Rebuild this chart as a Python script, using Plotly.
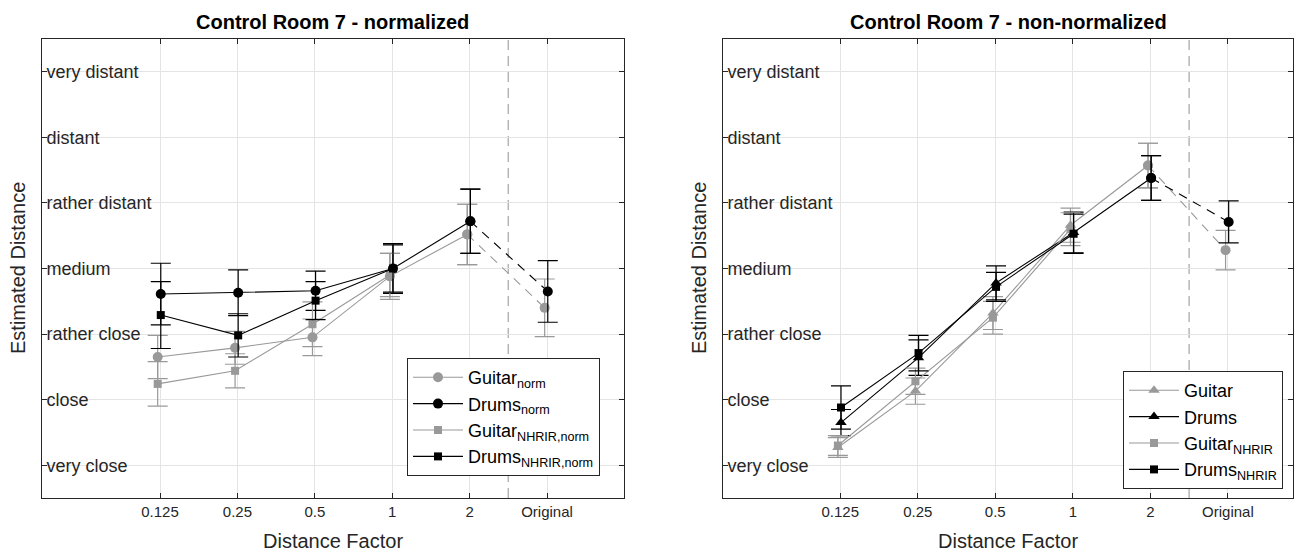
import plotly.graph_objects as go

# ---------------- data ----------------
x_labels = ["0.125", "0.25", "0.5", "1", "2", "Original"]
y_labels = ["very close", "close", "rather close", "medium", "rather distant", "distant", "very distant"]

# normalized (left)
guitar_norm = [2.65, 2.79, 2.95, 3.88, 4.52, 3.40]
guitar_norm_err = [0.33, 0.25, 0.28, 0.35, 0.46, 0.44]
drums_norm = [3.61, 3.63, 3.66, 4.00, 4.72, 3.65]
drums_norm_err = [0.47, 0.35, 0.30, 0.38, 0.49, 0.47]
guitar_nhrir_norm = [2.24, 2.44, 3.15, 3.90]
guitar_nhrir_norm_err = [0.34, 0.26, 0.34, 0.33]
drums_nhrir_norm = [3.29, 2.98, 3.51, 4.00]
drums_nhrir_norm_err = [0.51, 0.33, 0.29, 0.36]

# non-normalized (right)
guitar = [1.27, 2.13, 3.32, 4.66, 5.57, 4.28]
guitar_err = [0.15, 0.20, 0.25, 0.26, 0.34, 0.30]
drums = [1.65, 2.64, 3.78, 4.55, 5.38, 4.71]
drums_err = [0.20, 0.27, 0.26, 0.31, 0.34, 0.32]
guitar_nhrir = [1.30, 2.28, 3.25, 4.60]
guitar_nhrir_err = [0.15, 0.20, 0.25, 0.25]
drums_nhrir = [1.88, 2.71, 3.72, 4.53]
drums_nhrir_err = [0.33, 0.27, 0.22, 0.30]

# ---------------- style ----------------
W, H = 1295, 556
GRAY = "#999999"
BLACK = "#000000"
FONT = "Liberation Sans, Arial, Helvetica, sans-serif"
OFF_GRAY = -0.03
OFF_BLACK = 0.01
pos = list(range(1, len(x_labels) + 1))


def px_x(p):
    return p / W


def px_y(p):
    return (H - p) / H


fig = go.Figure()


def add_series(xa, ya, vals, errs, color, symbols, name, legend, off, size=10,
               dashed_tail=False, showlegend=True):
    n = len(vals)
    xs = [pos[i] + off for i in range(n)]
    solid_n = n - 1 if dashed_tail else n
    fig.add_trace(go.Scatter(
        x=xs[:solid_n], y=vals[:solid_n], mode="lines+markers",
        name=name, legend=legend, showlegend=showlegend,
        xaxis=xa, yaxis=ya,
        line=dict(color=color, width=1.1),
        marker=dict(color=color, symbol=symbols[:solid_n], size=size,
                    line=dict(width=0)),
        error_y=dict(type="data", array=errs[:solid_n], color=color,
                     thickness=1.2, width=10),
    ))
    if dashed_tail:
        fig.add_trace(go.Scatter(
            x=xs[n - 2:], y=vals[n - 2:], mode="lines+markers",
            showlegend=False, xaxis=xa, yaxis=ya,
            line=dict(color=color, width=1.1, dash="9px,7px"),
            marker=dict(color=color, symbol=symbols[n - 2:], size=size,
                        line=dict(width=0)),
            error_y=dict(type="data", array=errs[n - 2:], color=color,
                         thickness=1.2, width=10),
        ))


# left plot
add_series("x", "y", guitar_norm, guitar_norm_err, GRAY, ["circle"] * 6,
           "Guitar<sub>norm</sub>", "legend", OFF_GRAY, dashed_tail=True)
add_series("x", "y", drums_norm, drums_norm_err, BLACK, ["circle"] * 6,
           "Drums<sub>norm</sub>", "legend", OFF_BLACK, dashed_tail=True)
add_series("x", "y", guitar_nhrir_norm, guitar_nhrir_norm_err, GRAY, ["square"] * 4,
           "Guitar<sub>NHRIR,norm</sub>", "legend", OFF_GRAY, size=8)
add_series("x", "y", drums_nhrir_norm, drums_nhrir_norm_err, BLACK, ["square"] * 4,
           "Drums<sub>NHRIR,norm</sub>", "legend", OFF_BLACK, size=8)

# right plot
tri_sym = ["triangle-up"] * 4 + ["circle"] * 2
add_series("x2", "y2", guitar, guitar_err, GRAY, tri_sym,
           "Guitar", "legend2", OFF_GRAY, dashed_tail=True)
add_series("x2", "y2", drums, drums_err, BLACK, tri_sym,
           "Drums", "legend2", OFF_BLACK, dashed_tail=True)
add_series("x2", "y2", guitar_nhrir, guitar_nhrir_err, GRAY, ["square"] * 4,
           "Guitar<sub>NHRIR</sub>", "legend2", OFF_GRAY, size=8)
add_series("x2", "y2", drums_nhrir, drums_nhrir_err, BLACK, ["square"] * 4,
           "Drums<sub>NHRIR</sub>", "legend2", OFF_BLACK, size=8)

# domains
L_DOM = [px_x(42), px_x(624)]
R_DOM = [px_x(723), px_x(1293)]
Y_DOM = [px_y(498), px_y(39)]
unit = 77.4
L_RANGE = [1 - (160 - 42) / unit, 6 + (624 - 547) / unit]
R_RANGE = [1 - (840 - 723) / unit, 6 + (1293 - 1228) / unit]
Y_RANGE = [0.5, 7.5]

xcommon = dict(
    tickmode="array", tickvals=pos, ticktext=x_labels,
    showgrid=True, gridcolor="#e4e4e4", gridwidth=1,
    showline=True, linecolor="#262626", linewidth=1, mirror="ticks",
    ticks="inside", ticklen=5, tickcolor="#262626",
    zeroline=False, tickfont=dict(family=FONT, size=15, color="#262626"),
    fixedrange=True,
)
ycommon = dict(
    tickmode="array", tickvals=list(range(1, 8)), ticktext=y_labels,
    showgrid=True, gridcolor="#e4e4e4", gridwidth=1,
    showline=True, linecolor="#262626", linewidth=1, mirror="ticks",
    ticks="inside", ticklen=5, tickcolor="#262626",
    ticklabelposition="inside", zeroline=False,
    tickfont=dict(family=FONT, size=18, color="#262626"),
    range=Y_RANGE, domain=Y_DOM, fixedrange=True,
)

fig.update_layout(
    width=W, height=H,
    margin=dict(l=0, r=0, t=0, b=0),
    paper_bgcolor="white", plot_bgcolor="white",
    font=dict(family=FONT, size=15, color="#262626"),
    xaxis=dict(xcommon, domain=L_DOM, range=L_RANGE, anchor="y"),
    yaxis=dict(ycommon, anchor="x"),
    xaxis2=dict(xcommon, domain=R_DOM, range=R_RANGE, anchor="y2"),
    yaxis2=dict(ycommon, anchor="x2"),
    legend=dict(x=px_x(407), y=px_y(358), xanchor="left", yanchor="top",
                bgcolor="white", bordercolor="#262626", borderwidth=1,
                font=dict(family=FONT, size=18, color="#000000"),
                itemwidth=50, tracegroupgap=0),
    legend2=dict(x=px_x(1123), y=px_y(371), xanchor="left", yanchor="top",
                 bgcolor="white", bordercolor="#262626", borderwidth=1,
                 font=dict(family=FONT, size=18, color="#000000"),
                 itemwidth=50, tracegroupgap=0),
    showlegend=True,
)

# vertical dashed separators between "2" and "Original"
for xa, ya in (("x", "y"), ("x2", "y2")):
    fig.add_shape(type="line", xref=xa, yref=ya + " domain",
                  x0=5.5, x1=5.5, y0=0, y1=1,
                  line=dict(color="#b5b5b5", width=1.5, dash="10px,6px"),
                  layer="below")

ann = []
for cx, title in ((333, "Control Room 7 - normalized"), (1008, "Control Room 7 - non-normalized")):
    ann.append(dict(x=px_x(cx), y=px_y(22), xref="paper", yref="paper",
                    text="<b>" + title + "</b>", showarrow=False,
                    font=dict(family=FONT, size=20, color="#000000"),
                    xanchor="center", yanchor="middle"))
    ann.append(dict(x=px_x(cx), y=px_y(541), xref="paper", yref="paper",
                    text="Distance Factor", showarrow=False,
                    font=dict(family=FONT, size=20, color="#262626"),
                    xanchor="center", yanchor="middle"))
for cx in (18, 699):
    ann.append(dict(x=px_x(cx), y=px_y(268), xref="paper", yref="paper",
                    text="Estimated Distance", showarrow=False, textangle=-90,
                    font=dict(family=FONT, size=20, color="#262626"),
                    xanchor="center", yanchor="middle"))
fig.update_layout(annotations=ann)

fig.write_html("out.html")
